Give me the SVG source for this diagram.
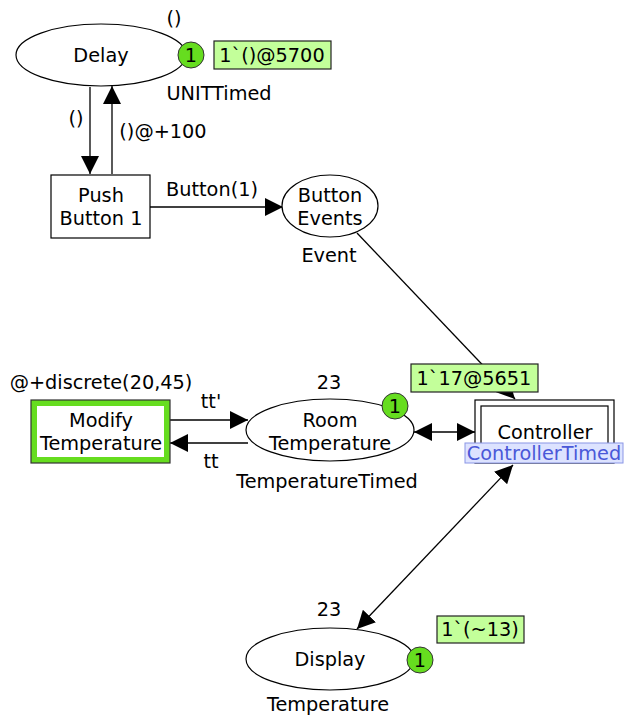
<svg xmlns="http://www.w3.org/2000/svg" width="625" height="716" viewBox="0 0 625 716">
<style>
text{font-family:"DejaVu Sans",Verdana,sans-serif;font-size:19.3px;fill:#000}
.c{text-anchor:middle}
.pl{fill:#fff;stroke:#000;stroke-width:1.2}
.tr{fill:#fff;stroke:#000;stroke-width:1.2}
.arc{stroke:#000;stroke-width:1.3;fill:none}
.tok{fill:#66dd1f;stroke:#333;stroke-width:1}
.mk{fill:#c3ff9a;stroke:#222;stroke-width:1.2}
</style>
<defs>
<marker id="ah" viewBox="0 0 18 18" refX="18" refY="9" markerWidth="18" markerHeight="18" markerUnits="userSpaceOnUse" orient="auto-start-reverse">
<path d="M0,0 L18,9 L0,18 z" fill="#000"/>
</marker>
</defs>
<g id="connectors">
<line class="arc" x1="90" y1="87" x2="90" y2="174" marker-end="url(#ah)"/>
<line class="arc" x1="112" y1="174" x2="112" y2="86" marker-end="url(#ah)"/>
<line class="arc" x1="150" y1="207" x2="283" y2="207" marker-end="url(#ah)"/>
<line class="arc" x1="357" y1="233" x2="515" y2="399" marker-end="url(#ah)"/>
<line class="arc" x1="170" y1="420" x2="248" y2="420" marker-end="url(#ah)"/>
<line class="arc" x1="248" y1="443" x2="170" y2="443" marker-end="url(#ah)"/>
<line class="arc" x1="414" y1="432" x2="475" y2="432" marker-start="url(#ah)" marker-end="url(#ah)"/>
<line class="arc" x1="513" y1="465" x2="357" y2="629" marker-start="url(#ah)" marker-end="url(#ah)"/>
<text x="76" y="125" class="c">()</text>
<text x="163" y="138" class="c">()@+100</text>
<text x="212" y="196" class="c">Button(1)</text>
<text x="211" y="408" class="c">tt'</text>
<text x="211" y="468" class="c">tt</text>
</g>
<g id="Delay">
<ellipse class="pl" cx="101" cy="55" rx="85" ry="31"/>
<text x="101" y="62" class="c">Delay</text>
<text x="174" y="25" class="c">()</text>
<text x="219" y="100" class="c">UNITTimed</text>
<circle class="tok" cx="191" cy="55" r="13"/>
<text x="191" y="62" class="c">1</text>
<rect class="mk" x="214" y="41" width="117" height="28"/>
<text x="272" y="62" class="c">1`()@5700</text>
</g>
<g id="PushButton1">
<rect class="tr" x="51" y="175" width="99" height="63"/>
<text x="101" y="202" class="c">Push</text>
<text x="101" y="225" class="c">Button 1</text>
</g>
<g id="ButtonEvents">
<ellipse class="pl" cx="330" cy="206" rx="48" ry="31"/>
<text x="330" y="202" class="c">Button</text>
<text x="330" y="225" class="c">Events</text>
<text x="329" y="262" class="c">Event</text>
</g>
<g id="ModifyTemperature">
<rect x="31" y="400" width="139" height="63" fill="#66dd1f" stroke="#333" stroke-width="1.2"/>
<rect x="37" y="406" width="127" height="51" fill="#fff"/>
<text x="101" y="427" class="c">Modify</text>
<text x="101" y="450" class="c">Temperature</text>
<text x="101" y="389" class="c">@+discrete(20,45)</text>
</g>
<g id="RoomTemperature">
<ellipse class="pl" cx="330" cy="430" rx="84" ry="31"/>
<text x="330" y="427" class="c">Room</text>
<text x="330" y="450" class="c">Temperature</text>
<text x="329" y="389" class="c">23</text>
<text x="327" y="488" class="c">TemperatureTimed</text>
<circle class="tok" cx="395" cy="406" r="13"/>
<text x="395" y="413" class="c">1</text>
</g>
<g id="Controller">
<rect class="tr" x="475" y="400" width="139" height="63"/>
<rect class="tr" x="481" y="406" width="127" height="51"/>
<text x="545" y="439" class="c">Controller</text>
<rect x="465" y="443" width="158" height="20" fill="#dde3ff" stroke="#8a96e6" stroke-width="1"/>
<text x="544" y="460" class="c" style="fill:#4a58d8">ControllerTimed</text>
<rect class="mk" x="411" y="364" width="127" height="28"/>
<text x="474" y="385" class="c">1`17@5651</text>
</g>
<g id="Display">
<ellipse class="pl" cx="330" cy="659" rx="84" ry="31"/>
<text x="330" y="666" class="c">Display</text>
<text x="329" y="616" class="c">23</text>
<text x="328" y="711" class="c">Temperature</text>
<circle class="tok" cx="420" cy="660" r="13"/>
<text x="420" y="667" class="c">1</text>
<rect class="mk" x="437" y="616" width="87" height="27"/>
<text x="480" y="636" class="c">1`(~13)</text>
</g>
</svg>
